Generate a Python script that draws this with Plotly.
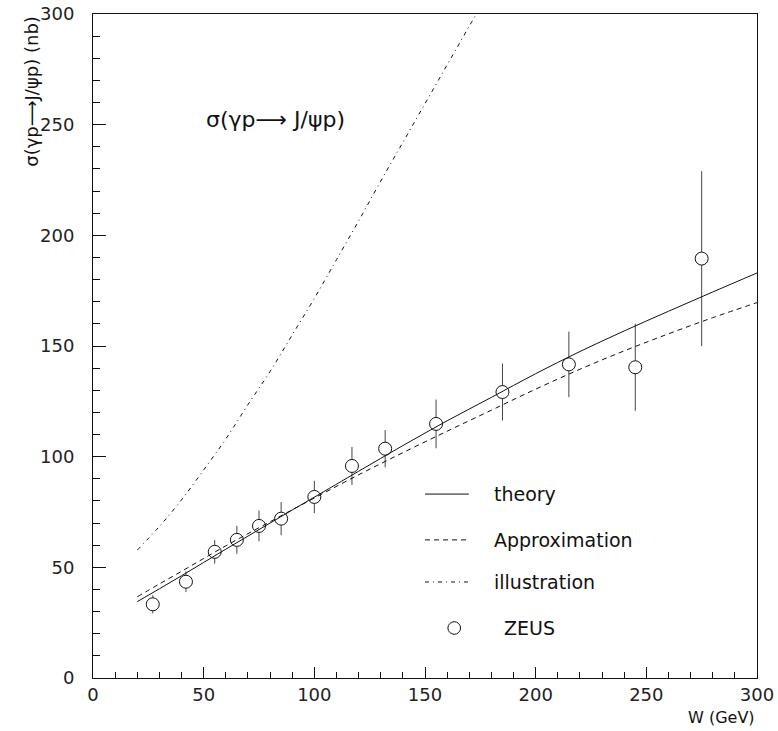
import plotly.graph_objects as go

# ZEUS measurements: W (GeV), sigma (nb), symmetric error (nb)
zeus_w = [27, 42, 55, 65, 75, 85, 100, 117, 132, 155, 185, 215, 245, 275]
zeus_sigma = [33.3, 43.5, 57.0, 62.4, 68.7, 72.0, 81.8, 95.8, 103.6, 114.8, 129.2, 141.7, 140.4, 189.5]
zeus_err = [4.1, 4.7, 5.3, 6.3, 7.0, 7.5, 7.3, 8.6, 8.4, 11.0, 12.9, 14.8, 19.7, 39.5]

# Model curves sampled in W
theory_w = [20, 30, 40, 50, 60, 70, 80, 90, 100, 120, 140, 160, 180, 200, 220, 240, 260, 280, 300]
theory_sigma = [34.5, 40.3, 46.2, 52.2, 58.2, 64.1, 70.0, 75.9, 81.7, 93.4, 105.0, 116.2, 126.8,
                137.5, 147.5, 156.8, 165.7, 174.4, 183.0]

approx_w = [20, 30, 40, 50, 60, 70, 80, 90, 100, 120, 140, 160, 180, 200, 220, 240, 260, 280, 300]
approx_sigma = [36.7, 42.5, 48.2, 54.0, 59.7, 65.2, 70.6, 76.0, 81.3, 91.8, 101.8, 111.5, 121.0,
                130.5, 139.5, 147.8, 155.5, 162.8, 169.6]

illus_w = [20, 30, 40, 50, 60, 70, 80, 90, 100, 110, 120, 130, 140, 150, 160, 170, 180]
illus_sigma = [57.8, 68.5, 80.5, 94.0, 108.0, 123.5, 138.5, 155.0, 171.5, 189.0, 206.5, 224.5,
               242.0, 259.5, 277.0, 294.5, 312.0]

legend_labels = ["theory", "Approximation", "illustration", "ZEUS"]

INK = "#111111"
FONT = "DejaVu Sans"

fig = go.Figure()

fig.add_trace(go.Scatter(
    x=zeus_w, y=zeus_sigma, mode="markers",
    marker=dict(symbol="circle", size=13, color="white", line=dict(color=INK, width=1)),
    error_y=dict(type="data", array=zeus_err, visible=True, width=0, thickness=1, color="#444444"),
    showlegend=False,
))
fig.add_trace(go.Scatter(
    x=theory_w, y=theory_sigma, mode="lines", line=dict(color=INK, width=1, shape="spline"),
    showlegend=False,
))
fig.add_trace(go.Scatter(
    x=approx_w, y=approx_sigma, mode="lines",
    line=dict(color=INK, width=1, dash="5px,4px", shape="spline"), showlegend=False,
))
fig.add_trace(go.Scatter(
    x=illus_w, y=illus_sigma, mode="lines",
    line=dict(color=INK, width=1, dash="4px,4px,1px,4px", shape="spline"), showlegend=False,
))

# Hand-built legend box in the lower right of the frame
leg_x0, leg_x1, leg_text_x = 0.500, 0.566, 0.601
leg_rows = [0.277, 0.208, 0.1446, 0.0753]
leg_dash = ["solid", "5px,4px", "4px,4px,1px,4px"]
for i, dash in enumerate(leg_dash):
    fig.add_shape(type="line", xref="paper", yref="paper",
                  x0=leg_x0, x1=leg_x1, y0=leg_rows[i], y1=leg_rows[i],
                  line=dict(color=INK, width=1, dash=dash))
for i, label in enumerate(legend_labels):
    fig.add_annotation(xref="paper", yref="paper", x=leg_text_x + (0.015 if i == 3 else 0),
                       y=leg_rows[i], text=label, showarrow=False, xanchor="left",
                       yanchor="middle", font=dict(family=FONT, size=19, color=INK))
r = 0.0095
fig.add_shape(type="circle", xref="paper", yref="paper",
              x0=0.544 - r, x1=0.544 + r, y0=leg_rows[3] - r, y1=leg_rows[3] + r,
              line=dict(color=INK, width=1), fillcolor="white")

# Process label inside the frame
fig.add_annotation(x=50.2, y=252.2, text="σ(γp⟶ J/ψp)", showarrow=False, xanchor="left",
                   yanchor="middle", font=dict(family=FONT, size=22, color=INK))

# Axis titles placed at the axis ends
fig.add_annotation(xref="paper", yref="paper", x=1.0, y=-0.060, text="W (GeV)", showarrow=False,
                   xanchor="right", yanchor="middle", font=dict(family=FONT, size=16, color=INK))
fig.add_annotation(xref="paper", yref="paper", x=-0.093, y=1.0, text="σ(γp⟶J/ψp) (nb)",
                   textangle=-90, showarrow=False, xanchor="center", yanchor="top",
                   font=dict(family=FONT, size=18, color=INK))

axis_common = dict(
    showline=True, mirror=True, linecolor=INK, linewidth=1,
    showgrid=False, zeroline=False, ticks="inside", tickcolor=INK, tickwidth=1,
    tickfont=dict(family=FONT, size=18, color="#222222"),
    tickmode="linear", tick0=0, dtick=50,
)
fig.update_xaxes(range=[0, 300], ticklen=11,
                 minor=dict(ticks="inside", dtick=10, ticklen=6, tickcolor=INK, tickwidth=1),
                 **axis_common)
fig.update_yaxes(range=[0, 300], ticklen=13, ticklabelstandoff=14,
                 minor=dict(ticks="inside", dtick=10, ticklen=7, tickcolor=INK, tickwidth=1),
                 **axis_common)

fig.update_layout(
    width=778, height=731,
    margin=dict(l=93, r=21, t=14, b=53, autoexpand=False),
    paper_bgcolor="white", plot_bgcolor="white",
    showlegend=False,
)

fig.write_html("out.html")
